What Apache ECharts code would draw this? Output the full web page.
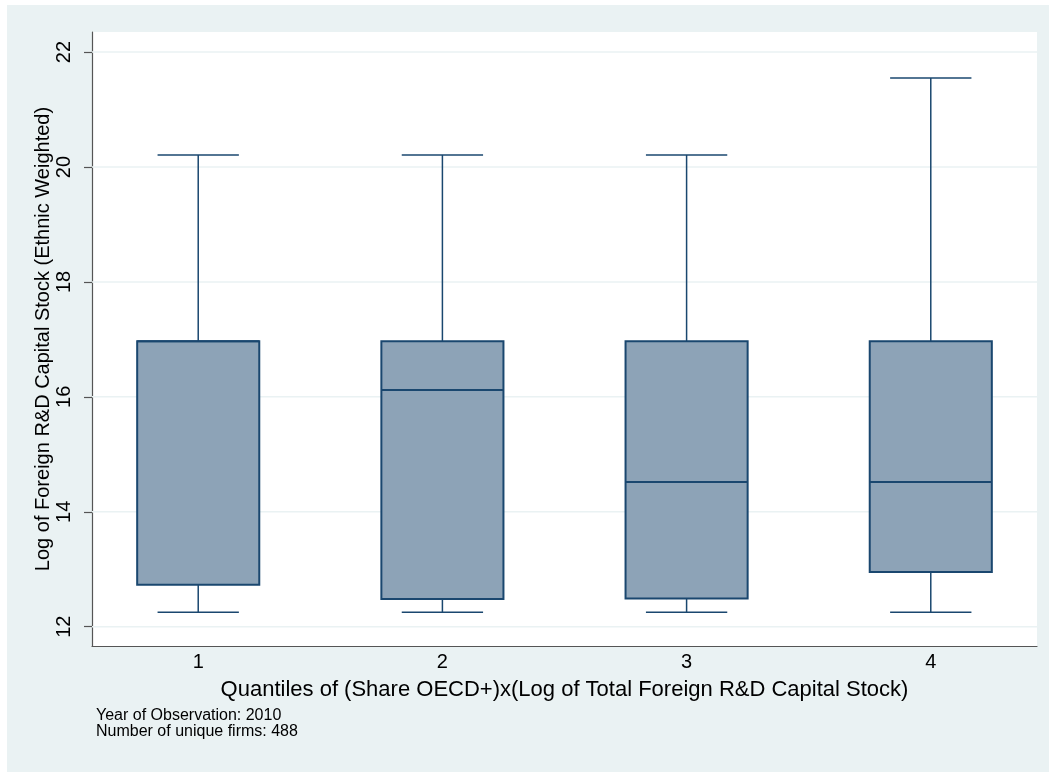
<!DOCTYPE html>
<html>
<head>
<meta charset="utf-8">
<script src="https://cdn.jsdelivr.net/npm/echarts@6/dist/echarts.min.js"></script>
<style>
	html, body { margin: 0; padding: 0; background: #fff; }
	#main { position: absolute; left: 7px; top: 5px; width: 1042px; height: 767px; }
</style>
</head>
<body>
<div id="main"></div>
<script>
	// quantile groups on the x axis
	var groups = [1, 2, 3, 4];
	var groupLabels = ['1', '2', '3', '4'];
	// box stats per group: min, q1, median, q3, max
	var mins    = [12.25, 12.25, 12.25, 12.25];
	var q1s     = [12.73, 12.48, 12.49, 12.95];
	var medians = [16.97, 16.12, 14.52, 14.52];
	var q3s     = [16.97, 16.97, 16.97, 16.97];
	var maxs    = [20.21, 20.21, 20.21, 21.55];
	// y ticks
	var yTicks = [12, 14, 16, 18, 20, 22];
	var noteLines = ['Year of Observation: 2010', 'Number of unique firms: 488'];

	var FONT = '"Liberation Sans", Arial, sans-serif';
	var NAVY = '#1A476F';
	var BOXFILL = '#8DA3B7';
	var GRIDCOL = '#EAF2F3';
	var X_MIN = 0.565, X_MAX = 4.435;

	var boxData = [];
	for (var i = 0; i < groups.length; i++) {
		boxData.push([groups[i], mins[i], q1s[i], medians[i], q3s[i], maxs[i]]);
	}
	var gridData = [];
	for (var k = 0; k < yTicks.length; k++) {
		gridData.push([X_MIN, yTicks[k]]);
	}

	function renderGrid(params, api) {
		var cs = params.coordSys;
		var y = api.coord([api.value(0), api.value(1)])[1];
		return {
			type: 'line',
			shape: { x1: cs.x, y1: y, x2: cs.x + cs.width, y2: y },
			style: { stroke: GRIDCOL, lineWidth: 1.5 }
		};
	}

	function renderBox(params, api) {
		var x = api.value(0);
		var pMin = api.coord([x, api.value(1)]);
		var pQ1 = api.coord([x, api.value(2)]);
		var pMed = api.coord([x, api.value(3)]);
		var pQ3 = api.coord([x, api.value(4)]);
		var pMax = api.coord([x, api.value(5)]);
		var bw = api.size([0.5, 0])[0];
		var cw = api.size([0.333, 0])[0];
		var cx = pMin[0];
		var lineStyle = { stroke: NAVY, lineWidth: 1.5 };
		return {
			type: 'group',
			children: [
				{ type: 'line', shape: { x1: cx, y1: pQ3[1], x2: cx, y2: pMax[1] }, style: lineStyle },
				{ type: 'line', shape: { x1: cx, y1: pQ1[1], x2: cx, y2: pMin[1] }, style: lineStyle },
				{ type: 'line', shape: { x1: cx - cw / 2, y1: pMax[1], x2: cx + cw / 2, y2: pMax[1] }, style: lineStyle },
				{ type: 'line', shape: { x1: cx - cw / 2, y1: pMin[1], x2: cx + cw / 2, y2: pMin[1] }, style: lineStyle },
				{ type: 'rect', shape: { x: cx - bw / 2, y: pQ3[1], width: bw, height: pQ1[1] - pQ3[1] },
					style: { fill: BOXFILL, stroke: NAVY, lineWidth: 2 } },
				{ type: 'line', shape: { x1: cx - bw / 2, y1: pMed[1], x2: cx + bw / 2, y2: pMed[1] },
					style: { stroke: NAVY, lineWidth: 2 } }
			]
		};
	}

	var myChart = echarts.init(document.getElementById('main'));
	var option = {
		backgroundColor: '#EAF2F3',
		animation: false,
		textStyle: { fontFamily: FONT, color: '#000' },
		grid: {
			left: 85, top: 27, right: 12, bottom: 126,
			show: true, backgroundColor: '#fff', borderWidth: 0
		},
		xAxis: {
			type: 'value',
			min: X_MIN,
			max: X_MAX,
			name: 'Quantiles of (Share OECD+)x(Log of Total Foreign R&D Capital Stock)',
			nameLocation: 'middle',
			nameGap: 33,
			nameTextStyle: { fontSize: 22, color: '#000', fontFamily: FONT },
			axisLine: { show: true, lineStyle: { color: '#555', width: 1.2 } },
			axisTick: { show: false },
			splitLine: { show: false },
			axisLabel: {
				customValues: groups,
				formatter: function(v) {
					var idx = groups.indexOf(v);
					return idx >= 0 ? groupLabels[idx] : '';
				},
				fontSize: 20, color: '#000', margin: 6, fontFamily: FONT
			}
		},
		yAxis: {
			type: 'value',
			min: 11.664,
			max: 22.35,
			name: 'Log of Foreign R&D Capital Stock (Ethnic Weighted)',
			nameLocation: 'middle',
			nameGap: 39,
			nameMoveOverlap: false,
			nameTextStyle: { fontSize: 20, color: '#000', fontFamily: FONT },
			axisLine: { show: true, lineStyle: { color: '#555', width: 1.2 } },
			axisTick: { show: true, customValues: yTicks, length: 8, lineStyle: { color: '#555', width: 1.2 } },
			splitLine: { show: false },
			axisLabel: {
				customValues: yTicks,
				rotate: 90,
				align: 'center',
				verticalAlign: 'bottom',
				fontSize: 20, color: '#000', margin: 18, fontFamily: FONT
			}
		},
		graphic: [{
			type: 'text',
			left: 89,
			top: 703,
			style: {
				text: noteLines.join('\n'),
				font: '16px ' + FONT,
				lineHeight: 16,
				fill: '#000'
			}
		}],
		series: [{
			type: 'custom',
			name: 'grid',
			silent: true,
			z: 1,
			renderItem: renderGrid,
			encode: { x: 0, y: 1 },
			data: gridData
		}, {
			type: 'custom',
			name: 'box',
			silent: true,
			z: 2,
			renderItem: renderBox,
			encode: { x: 0, y: [1, 2, 3, 4, 5] },
			data: boxData
		}]
	};
	myChart.setOption(option);
</script>
</body>
</html>
